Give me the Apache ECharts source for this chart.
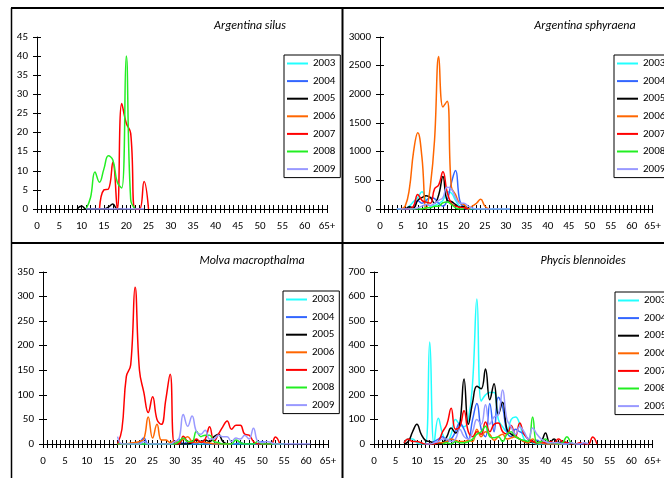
<!DOCTYPE html>
<html>
<head>
<meta charset="utf-8">
<script src="https://cdn.jsdelivr.net/npm/echarts@6/dist/echarts.min.js"></script>
<style>
  html, body { margin: 0; padding: 0; background: #fff; }
  #chart { width: 664px; height: 478px; }
</style>
</head>
<body>
<div id="chart"></div>
<script>
// length classes 0..64 plus "65+"
const lengthLabels = [];
for (let i = 0; i < 65; i++) lengthLabels.push(String(i));
lengthLabels.push("65+");

const years = ["2003", "2004", "2005", "2006", "2007", "2008", "2009"];
const colors = ["#22ffff", "#3366ff", "#000000", "#ff6600", "#ff0000", "#22ee22", "#9999ff"];

// place the read values starting at a length class, nulls elsewhere
function pad(start, values) {
  const out = new Array(lengthLabels.length).fill(null);
  values.forEach((v, k) => { out[start + k] = v; });
  return out;
}

// Argentina silus
const silus2003 = pad(0, []);
const silus2004 = pad(0, []);
const silus2005 = pad(9, [0, 0.8, 0, 0, 0, 0, 0, 0.5, 1.3, 0, 0]);
const silus2006 = pad(0, []);
const silus2007 = pad(14, [0, 5, 5.2, 12.2, 0, 27.6, 22.5, 19.8, 0, 0, 7.2, 0]);
const silus2008 = pad(11, [0, 3, 9.7, 7, 10.5, 13.9, 12.8, 7, 5.5, 40, 2.5, 0]);
const silus2009 = pad(11, [0, 0, 0, 0, 0, 0, 0, 0, 0, 0, 0, 0, 0, 0]);

// Argentina sphyraena
const sphy2003 = pad(4, [0, 0, 0, 50, 130, 200, 300, 150, 50, 60, 100, 150, 300, 280, 150, 50, 30, 0, 0, 0, 0, 0, 0, 0, 0, 0, 0, 0]);
const sphy2004 = pad(6, [0, 0, 30, 150, 100, 150, 200, 180, 100, 50, 150, 450, 670, 150, 20, 0]);
const sphy2005 = pad(5, [0, 0, 40, 20, 150, 200, 230, 200, 100, 250, 565, 150, 130, 80, 30, 50, 0]);
const sphy2006 = pad(5, [0, 50, 350, 1000, 1330, 900, 0, 400, 1200, 2660, 1780, 1880, 390, 250, 100, 80, 0, 50, 100, 170, 50, 0]);
const sphy2007 = pad(6, [0, 0, 50, 255, 150, 120, 100, 350, 420, 650, 300, 100, 50, 30, 20, 0]);
const sphy2008 = pad(7, [0, 0, 0, 0, 20, 20, 50, 50, 110, 120, 80, 20, 0, 0]);
const sphy2009 = pad(4, [0, 0, 0, 0, 0, 20, 50, 80, 60, 100, 150, 200, 380, 350, 200, 100, 100, 50, 20, 0, 0, 0, 0, 0, 0, 0, 0, 0]);

// Molva macropthalma
const molva2003 = pad(17, [0, 0, 0, 0, 0, 0, 0, 0, 0, 0, 0, 0, 0, 0, 0, 0, 0, 0, 0, 0, 0, 0, 0, 0, 0, 0, 0, 0, 0, 0, 0, 0, 0, 0, 0, 0, 0, 0, 0]);
const molva2004 = pad(17, [0, 0, 0, 0, 0, 3, 12, 0, 0, 0, 0, 0, 0, 0, 10, 0, 5, 0, 0, 5, 0, 0, 0, 0, 0, 0, 0, 0, 3, 0, 0, 0, 0, 5, 0, 0, 0, 0, 0]);
const molva2005 = pad(30, [0, 0, 0, 0, 3, 8, 5, 8, 5, 15, 20, 5, 0]);
const molva2006 = pad(17, [0, 0, 0, 2, 3, 5, 10, 55, 12, 40, 8, 8, 3, 5, 3, 10, 15, 5, 3, 5, 3, 2, 0, 0, 0, 0, 0]);
const molva2007 = pad(17, [0, 30, 137, 161, 319, 150, 105, 64, 96, 50, 40, 90, 142, 0, 0, 16, 5, 3, 10, 3, 10, 35, 5, 20, 35, 47, 30, 38, 38, 20, 18, 5, 0, 0, 0, 0, 14, 0]);
const molva2008 = pad(17, [0, 0, 0, 0, 0, 0, 0, 0, 0, 0, 0, 0, 0, 0, 5, 12, 5, 5, 26, 15, 18, 18, 5, 3, 0, 0, 0, 8, 3, 0, 0, 0, 5, 0, 0, 0, 0, 0, 0]);
const molva2009 = pad(17, [15, 0, 0, 0, 0, 0, 5, 0, 0, 0, 0, 0, 0, 5, 10, 60, 36, 57, 25, 20, 28, 10, 10, 18, 15, 15, 5, 12, 10, 18, 10, 32, 5, 3, 5, 3, 0, 0, 0, 0, 0, 0, 0, 0, 0]);

// Phycis blennoides
const phycis2003 = pad(7, [5, 20, 20, 5, 0, 0, 415, 0, 105, 40, 10, 40, 100, 80, 70, 100, 250, 590, 175, 200, 210, 210, 100, 70, 50, 100, 110, 80, 20, 10, 5, 0, 0, 0, 0, 0, 0, 0, 0, 0]);
const phycis2004 = pad(12, [0, 0, 10, 20, 30, 10, 20, 50, 85, 60, 20, 100, 165, 60, 30, 165, 50, 190, 150, 50, 30, 60, 50, 40, 20, 10, 15, 5, 0, 5, 0, 3, 0, 5, 3, 0, 0, 0]);
const phycis2005 = pad(7, [0, 10, 50, 80, 40, 15, 10, 5, 0, 5, 30, 65, 45, 80, 265, 80, 170, 235, 225, 305, 180, 245, 120, 170, 60, 40, 30, 20, 10, 5, 10, 5, 10, 45, 5, 20, 5, 10, 5, 0, 0]);
const phycis2006 = pad(14, [0, 5, 5, 10, 20, 15, 10, 10, 15, 10, 60, 30, 50, 40, 15, 30, 40, 20, 25, 30, 20, 10, 5, 20, 5, 5, 0, 0, 0, 0, 0]);
const phycis2007 = pad(7, [5, 20, 10, 10, 5, 0, 0, 0, 10, 50, 80, 145, 60, 70, 135, 50, 30, 50, 40, 90, 50, 80, 85, 50, 40, 75, 30, 85, 40, 20, 10, 5, 10, 5, 10, 5, 20, 10, 5, 0, 0, 5, 0, 0, 28, 0]);
const phycis2008 = pad(16, [0, 5, 0, 10, 5, 5, 10, 20, 40, 50, 72, 30, 25, 30, 10, 40, 50, 30, 20, 15, 10, 110, 5, 10, 20, 5, 5, 0, 5, 30, 5, 0]);
const phycis2009 = pad(12, [0, 0, 5, 10, 20, 20, 10, 20, 60, 30, 20, 50, 100, 80, 160, 80, 110, 120, 220, 100, 70, 40, 70, 50, 20, 65, 40, 20, 10, 5, 5, 5, 0, 0, 5, 0, 0, 5, 0]);

const panels = [
  { title: "Argentina silus", max: 45, step: 5, left: 37, top: 37, width: 290, titleX: 250, titleY: 26, legendX: 284, legendY: 55,
    data: [silus2003, silus2004, silus2005, silus2006, silus2007, silus2008, silus2009] },
  { title: "Argentina sphyraena", max: 3000, step: 500, left: 380, top: 37, width: 280, titleX: 585, titleY: 26, legendX: 614, legendY: 55,
    data: [sphy2003, sphy2004, sphy2005, sphy2006, sphy2007, sphy2008, sphy2009] },
  { title: "Molva macropthalma", max: 350, step: 50, left: 43, top: 272, width: 285, titleX: 252, titleY: 261, legendX: 283, legendY: 291,
    data: [molva2003, molva2004, molva2005, molva2006, molva2007, molva2008, molva2009] },
  { title: "Phycis blennoides", max: 700, step: 100, left: 374, top: 272, width: 285, titleX: 583, titleY: 261, legendX: 615, legendY: 292,
    data: [phycis2003, phycis2004, phycis2005, phycis2006, phycis2007, phycis2008, phycis2009] }
];

const font = "Carlito, Lato, 'Open Sans', sans-serif";

const chart = echarts.init(document.getElementById("chart"));

const grid = [], xAxis = [], yAxis = [], series = [], legend = [], graphic = [];

panels.forEach((p, k) => {
  grid.push({ left: p.left, top: p.top, width: p.width, height: 172 });

  const xBase = {
    gridIndex: k, type: "category", data: lengthLabels, boundaryGap: false,
    splitLine: { show: false }
  };
  xAxis.push(Object.assign({}, xBase, {
    axisLine: { lineStyle: { color: "#000", width: 1 } },
    axisTick: { interval: 0, length: 4, lineStyle: { color: "#000" } },
    axisLabel: { interval: 4, margin: 12, color: "#000", fontSize: 11, fontFamily: font }
  }));
  xAxis.push(Object.assign({}, xBase, {
    position: "bottom", offset: 0,
    axisLine: { show: false },
    axisTick: { interval: 0, inside: true, length: 4, lineStyle: { color: "#000" } },
    axisLabel: { show: false }
  }));

  const yBase = {
    gridIndex: k, type: "value", min: 0, max: p.max, interval: p.step,
    splitLine: { show: false }, position: "left"
  };
  yAxis.push(Object.assign({}, yBase, {
    axisLine: { show: true, lineStyle: { color: "#000", width: 1 } },
    axisTick: { show: true, length: 4, lineStyle: { color: "#000" } },
    axisLabel: { margin: 9, color: "#000", fontSize: 11, fontFamily: font, formatter: (v) => String(v) }
  }));
  yAxis.push(Object.assign({}, yBase, {
    offset: 0,
    axisLine: { show: false },
    axisTick: { show: true, inside: true, length: 4, lineStyle: { color: "#000" } },
    axisLabel: { show: false }
  }));

  p.data.forEach((d, j) => {
    series.push({
      type: "line", name: years[j], data: d,
      xAxisIndex: 2 * k, yAxisIndex: 2 * k,
      smooth: 0.45, symbol: "none", silent: true,
      lineStyle: { color: colors[j], width: 1.5 },
      itemStyle: { color: colors[j] }
    });
  });

  legend.push({
    orient: "vertical", left: p.legendX, top: p.legendY,
    data: years, icon: "rect", itemWidth: 21, itemHeight: 2, itemGap: 4.6,
    padding: [2, 5, 2, 3], borderColor: "#000", borderWidth: 1,
    selectedMode: false,
    itemStyle: { borderWidth: 0 },
    lineStyle: { width: 0 },
    textStyle: { fontSize: 11, lineHeight: 13, color: "#000", fontFamily: font }
  });

  graphic.push({
    type: "text", x: p.titleX, y: p.titleY,
    style: { text: p.title, fontSize: 12, fontStyle: "italic", fontFamily: font, fill: "#000", align: "center", verticalAlign: "middle" }
  });
});

// panel frame lines
graphic.push(
  { type: "line", shape: { x1: 11, y1: 8, x2: 664, y2: 8 }, style: { stroke: "#000", lineWidth: 2 } },
  { type: "line", shape: { x1: 11.5, y1: 8, x2: 11.5, y2: 478 }, style: { stroke: "#000", lineWidth: 1.5 } },
  { type: "line", shape: { x1: 342.5, y1: 8, x2: 342.5, y2: 478 }, style: { stroke: "#000", lineWidth: 2 } },
  { type: "line", shape: { x1: 11, y1: 243, x2: 664, y2: 243 }, style: { stroke: "#000", lineWidth: 2 } }
);

chart.setOption({
  animation: false,
  grid: grid,
  xAxis: xAxis,
  yAxis: yAxis,
  legend: legend,
  graphic: graphic,
  series: series
});
</script>
</body>
</html>
